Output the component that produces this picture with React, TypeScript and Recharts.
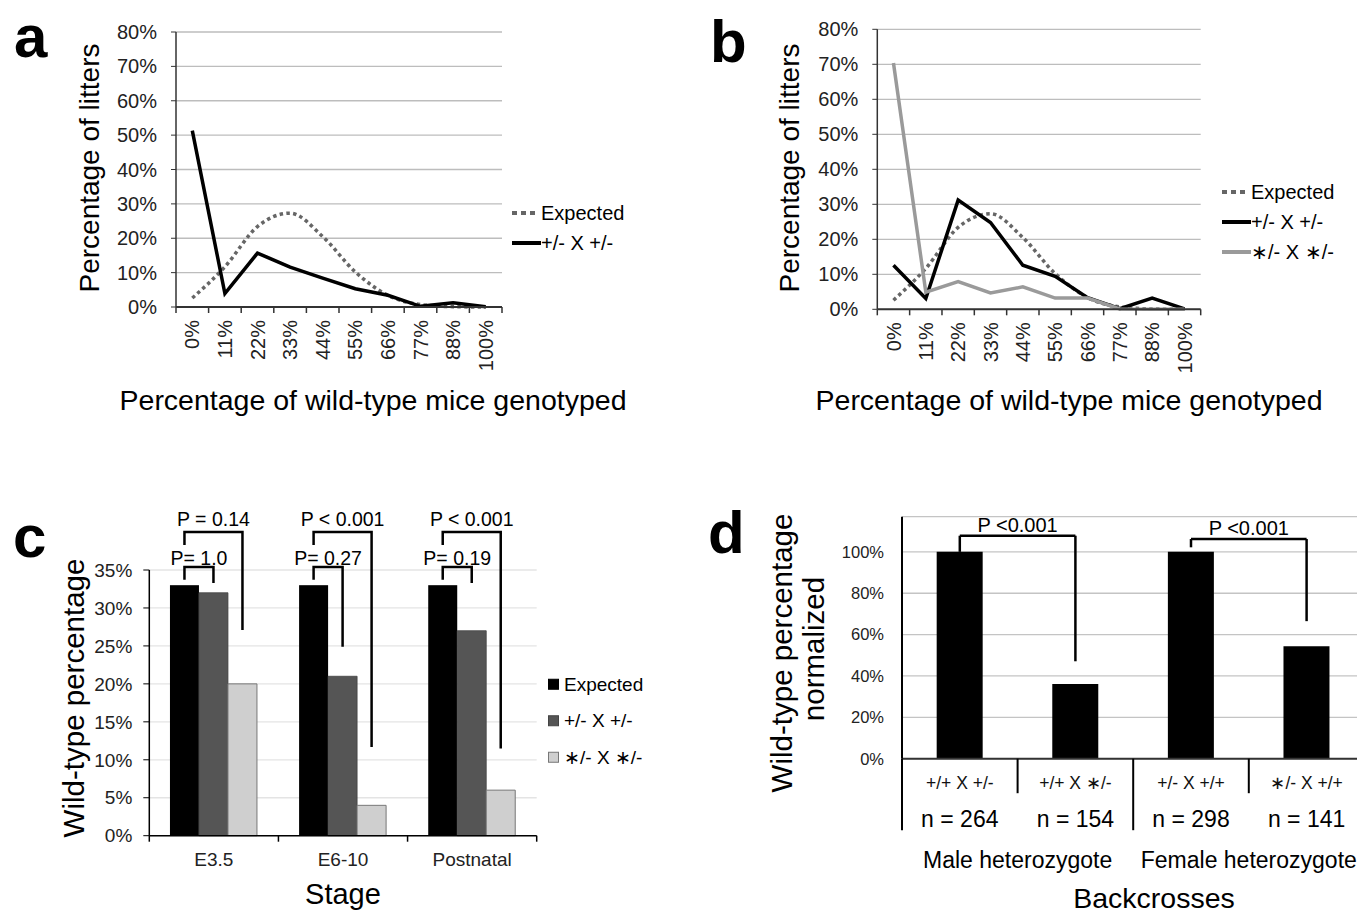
import React from 'react';
import {
  ComposedChart, BarChart, Bar, Line, XAxis, YAxis, CartesianGrid, Legend, ReferenceLine,
} from 'recharts';

const FONT = '"Liberation Sans", Arial, Helvetica, sans-serif';

// a / b: share of wild-type pups per litter
const wtBins = ['0%', '11%', '22%', '33%', '44%', '55%', '66%', '77%', '88%', '100%'];
const expectedLitters = [2.6, 11.7, 23.4, 27.3, 20.5, 10.2, 3.4, 0.7, 0.1, 0];
const hetLittersA = [51.3, 3.9, 15.7, 11.6, 8.4, 5.3, 3.4, 0.2, 1.2, 0.1];
const hetLittersB = [12.6, 3.1, 31.2, 24.8, 12.6, 9.4, 3.3, 0.2, 3.2, 0.1];
const mutLittersB = [70.4, 4.9, 7.9, 4.7, 6.4, 3.2, 3.2, 0.1, 0, 0];
const litterTicks = [0, 10, 20, 30, 40, 50, 60, 70, 80];

// c: wild-type percentage by stage
const stages = ['E3.5', 'E6-10', 'Postnatal'];
const stageExpected = [33, 33, 33];
const stageHet = [32, 21, 27];
const stageMut = [20, 4, 6];
const stageTicks = [0, 5, 10, 15, 20, 25, 30, 35];
const pHet = ['P= 1.0', 'P= 0.27', 'P= 0.19'];
const pMut = ['P = 0.14', 'P < 0.001', 'P < 0.001'];
const pHetEnd = [33.3, 24.9, 33.3];
const pMutEnd = [27.1, 11.7, 11.5];

// d: backcrosses
const crosses = ['+/+ X +/-', '+/+ X \u2217/-', '+/- X +/+', '\u2217/- X +/+'];
const crossN = ['n = 264', 'n = 154', 'n = 298', 'n = 141'];
const crossGroups = ['Male heterozygote', 'Female heterozygote'];
const crossWt = [100, 36.1, 100, 54.4];
const crossP = ['P <0.001', 'P <0.001'];
const crossPTop = [107.8, 106.2];
const crossPStart = [100, 102.2];
const crossPEnd = [47.1, 66.5];
const crossTicks = [0, 20, 40, 60, 80, 100];

const rowsA = wtBins.map((bin, i) => ({ bin, expected: expectedLitters[i], het: hetLittersA[i] }));
const rowsB = wtBins.map((bin, i) => ({
  bin, expected: expectedLitters[i], het: hetLittersB[i], mut: mutLittersB[i],
}));
const stageRows = stages.map((stage, i) => ({
  stage,
  expected: stageExpected[i],
  het: stageHet[i],
  mut: stageMut[i],
  pHet: pHet[i],
  pMut: pMut[i],
  hetEnd: pHetEnd[i],
  mutEnd: pMutEnd[i],
}));
const crossRows = crosses.map((cross, i) => ({ cross, wt: crossWt[i] }));

const pct = (v: number) => `${v}%`;

type LineKey = { name: string; color: string; dash?: string };
const lineSeriesA: LineKey[] = [
  { name: 'Expected', color: '#666', dash: '5 4' },
  { name: '+/- X +/-', color: '#000' },
];
const lineSeriesB: LineKey[] = [...lineSeriesA, { name: '\u2217/- X \u2217/-', color: '#9a9a9a' }];

const stageSeries = [
  { name: 'Expected', fill: '#000', stroke: '#000' },
  { name: '+/- X +/-', fill: '#555', stroke: '#444' },
  { name: '\u2217/- X \u2217/-', fill: '#cfcfcf', stroke: '#777' },
];

function LineLegend({ items }: { items: LineKey[] }) {
  const row = 30;
  return (
    <svg width={160} height={items.length * row} style={{ display: 'block', overflow: 'visible' }}>
      {items.map((it, i) => {
        const cy = row / 2 + i * row;
        return (
          <g key={it.name}>
            <line x1={0} x2={it.dash ? 23 : 29} y1={cy} y2={cy} stroke={it.color} strokeWidth={4}
              strokeDasharray={it.dash} />
            <text x={29} y={cy} dominantBaseline="central" fontSize={20} fontFamily={FONT} fill="#000">
              {it.name}
            </text>
          </g>
        );
      })}
    </svg>
  );
}

function BarLegend() {
  const row = 36.5;
  return (
    <svg width={120} height={stageSeries.length * row} style={{ display: 'block', overflow: 'visible' }}>
      {stageSeries.map((s, i) => {
        const cy = row / 2 + i * row;
        return (
          <g key={s.name}>
            <rect x={0.5} y={cy - 5} width={10} height={10} fill={s.fill} stroke={s.stroke} />
            <text x={16} y={cy} dominantBaseline="central" fontSize={19} fontFamily={FONT} fill="#000">
              {s.name}
            </text>
          </g>
        );
      })}
    </svg>
  );
}

// rotated bin labels, tick marks on the band edges
function BinTick(props: any) {
  const { x, y, payload, index, width } = props;
  const half = (typeof width === 'number' ? width : 328) / wtBins.length / 2;
  const ty = y + 13;
  return (
    <g>
      <line x1={x - half} x2={x - half} y1={y} y2={y + 6} stroke="#333" strokeWidth={1.5} />
      {index === wtBins.length - 1 && (
        <line x1={x + half} x2={x + half} y1={y} y2={y + 6} stroke="#333" strokeWidth={1.5} />
      )}
      <text x={x} y={ty} transform={`rotate(-90 ${x} ${ty})`} textAnchor="end" dy="0.36em"
        fontSize={20} fill="#222" fontFamily={FONT}>
        {payload.value}
      </text>
    </g>
  );
}

function StageTick(props: any) {
  const { x, y, payload, index, width } = props;
  const half = (typeof width === 'number' ? width : 387) / stages.length / 2;
  return (
    <g>
      <line x1={x - half} x2={x - half} y1={y} y2={y + 6} stroke="#000" strokeWidth={1.5} />
      {index === stages.length - 1 && (
        <line x1={x + half} x2={x + half} y1={y} y2={y + 6} stroke="#000" strokeWidth={1.5} />
      )}
      <text x={x} y={y + 24} textAnchor="middle" dominantBaseline="central" fontSize={19}
        fill="#222" fontFamily={FONT}>
        {payload.value}
      </text>
    </g>
  );
}

function CrossTick(props: any) {
  const { x, y, payload, index, width } = props;
  const half = (typeof width === 'number' ? width : 462) / crosses.length / 2;
  const left = x - half;
  const long = index === 0 || index === 2;
  return (
    <g>
      <line x1={left} x2={left} y1={y} y2={y + (long ? 71.5 : 34.5)} stroke="#000" strokeWidth={2} />
      <text x={x} y={y + 24.3} textAnchor="middle" dominantBaseline="central" fontSize={17.5}
        fill="#111" fontFamily={FONT}>
        {payload.value}
      </text>
      <text x={x} y={y + 60.3} textAnchor="middle" dominantBaseline="central" fontSize={23}
        fill="#000" fontFamily={FONT}>
        {crossN[index]}
      </text>
      {index % 2 === 1 && (
        <text x={left} y={y + 101.3} textAnchor="middle" dominantBaseline="central" fontSize={23}
          fill="#000" fontFamily={FONT}>
          {crossGroups[(index - 1) / 2]}
        </text>
      )}
    </g>
  );
}

// brackets in c are hung off the Expected bar of each stage
const BR_OUTER_TOP = 40;
const BR_OUTER_LEG = 38.3;
const BR_INNER_TOP = 35.4;
const BR_INNER_LEG = 33.7;

function ExpectedBar(props: any) {
  const { x, y, width, height, payload, fill } = props;
  const rect = <rect x={x} y={y} width={width} height={height} fill={fill} />;
  if (!payload || !payload.expected) return rect;
  const base = y + height;
  const k = height / payload.expected;
  const py = (v: number) => base - v * k;
  const c0 = x + width / 2;
  const c1 = c0 + width;
  const c2 = c0 + 2 * width;
  const outer = py(BR_OUTER_TOP);
  const inner = py(BR_INNER_TOP);
  const txt = { textAnchor: 'middle' as const, dominantBaseline: 'central' as const, fontSize: 19.5, fontFamily: FONT, fill: '#000' };
  return (
    <g>
      {rect}
      <path d={`M${c0},${py(BR_OUTER_LEG)}V${outer}H${c2}V${py(payload.mutEnd)}`} fill="none"
        stroke="#000" strokeWidth={2.5} />
      <path d={`M${c0},${py(BR_INNER_LEG)}V${inner}H${c1}V${py(payload.hetEnd)}`} fill="none"
        stroke="#000" strokeWidth={2.5} />
      <text x={(c0 + c2) / 2} y={outer - 13} {...txt}>{payload.pMut}</text>
      <text x={(c0 + c1) / 2} y={inner - 9} {...txt}>{payload.pHet}</text>
    </g>
  );
}

function LitterChart({ data, series, legendLeft, legendTop, margin }: any) {
  return (
    <ComposedChart width={660} height={420} data={data} margin={margin}>
      <CartesianGrid vertical={false} stroke="#bdbdbd" strokeWidth={1.3} />
      <XAxis dataKey="bin" scale="band" interval={0} height={70} tickLine={false} tickSize={0}
        tickMargin={0} tick={(p: any) => <BinTick {...p} />} axisLine={{ stroke: '#333', strokeWidth: 2 }} />
      <YAxis domain={[0, 80]} ticks={litterTicks} tickFormatter={pct} width={60} tickSize={5}
        tickMargin={14} axisLine={{ stroke: '#333', strokeWidth: 1.5 }} tickLine={{ stroke: '#333' }}
        tick={{ fontSize: 20, fill: '#222', fontFamily: FONT }} />
      <Line dataKey="expected" type="monotone" stroke="#666" strokeWidth={3.5}
        strokeDasharray="3.5 3.3" dot={false} activeDot={false} isAnimationActive={false} />
      <Line dataKey="het" type="linear" stroke="#000" strokeWidth={3.5} dot={false}
        activeDot={false} isAnimationActive={false} />
      {series.length > 2 && (
        <Line dataKey="mut" type="linear" stroke="#9a9a9a" strokeWidth={3.5} dot={false}
          activeDot={false} isAnimationActive={false} />
      )}
      <Legend layout="vertical" align="center" verticalAlign="middle"
        wrapperStyle={{ left: legendLeft, top: legendTop, width: 160 }}
        content={() => <LineLegend items={series} />} />
    </ComposedChart>
  );
}

function StageChart() {
  return (
    <BarChart width={660} height={425} data={stageRows} barGap={0} barCategoryGap="16%"
      margin={{ top: 80, right: 123.3, bottom: 29.3, left: 89.3 }}>
      <CartesianGrid vertical={false} stroke="#e4e4e4" strokeWidth={1.3} />
      <XAxis dataKey="stage" interval={0} height={50} tickLine={false} tickSize={0} tickMargin={0}
        tick={(p: any) => <StageTick {...p} />} axisLine={{ stroke: '#000', strokeWidth: 1.5 }} />
      <YAxis domain={[0, 35]} ticks={stageTicks} tickFormatter={pct} width={60} tickSize={6}
        tickMargin={11} axisLine={{ stroke: '#000', strokeWidth: 1.5 }} tickLine={{ stroke: '#000' }}
        tick={{ fontSize: 19, fill: '#222', fontFamily: FONT }} />
      <Bar dataKey="expected" fill={stageSeries[0].fill} shape={(p: any) => <ExpectedBar {...p} />}
        isAnimationActive={false} />
      <Bar dataKey="het" fill={stageSeries[1].fill} stroke={stageSeries[1].stroke} strokeWidth={0.8}
        isAnimationActive={false} />
      <Bar dataKey="mut" fill={stageSeries[2].fill} stroke={stageSeries[2].stroke} strokeWidth={1}
        isAnimationActive={false} />
      <Legend layout="vertical" align="center" verticalAlign="middle"
        wrapperStyle={{ left: 548, top: 175.75, width: 120 }} content={() => <BarLegend />} />
    </BarChart>
  );
}

function CrossChart() {
  return (
    <BarChart width={690} height={425} data={crossRows} barCategoryGap="30%"
      margin={{ top: 26.7, right: 15.6, bottom: 36.3, left: 132 }}>
      <CartesianGrid vertical={false} stroke="#c4c4c4" strokeWidth={1.3} />
      <XAxis dataKey="cross" interval={0} height={120} tickLine={false} tickSize={0} tickMargin={0}
        tick={(p: any) => <CrossTick {...p} />} axisLine={{ stroke: '#333', strokeWidth: 2 }} />
      <YAxis domain={[0, 117]} ticks={crossTicks} tickFormatter={pct} width={80} tickLine={false}
        tickSize={0} tickMargin={18} axisLine={{ stroke: '#000', strokeWidth: 2 }}
        tick={{ fontSize: 16.5, fill: '#222', fontFamily: FONT }} />
      <Bar dataKey="wt" fill="#000" isAnimationActive={false} />
      {crossP.map((p, i) => {
        const l = crosses[2 * i];
        const r = crosses[2 * i + 1];
        return [
          <ReferenceLine key={`l${i}`} segment={[{ x: l, y: crossPStart[i] }, { x: l, y: crossPTop[i] }]}
            stroke="#000" strokeWidth={2.5} ifOverflow="visible" />,
          <ReferenceLine key={`t${i}`} segment={[{ x: l, y: crossPTop[i] }, { x: r, y: crossPTop[i] }]}
            stroke="#000" strokeWidth={2.5} ifOverflow="visible"
            label={{ value: p, position: 'top', offset: 4, fontSize: 20, fill: '#000', fontFamily: FONT }} />,
          <ReferenceLine key={`r${i}`} segment={[{ x: r, y: crossPTop[i] }, { x: r, y: crossPEnd[i] }]}
            stroke="#000" strokeWidth={2.5} ifOverflow="visible" />,
        ];
      })}
    </BarChart>
  );
}

function Captions() {
  const title = { textAnchor: 'middle' as const, dominantBaseline: 'central' as const, fontFamily: FONT, fill: '#000' };
  const letter = { fontSize: 60, fontWeight: 700, fontFamily: FONT, fill: '#000' };
  return (
    <svg width={1357} height={915} style={{ position: 'absolute', left: 0, top: 0, pointerEvents: 'none' }}>
      <text x={14} y={57} {...letter}>a</text>
      <text x={710} y={62} {...letter}>b</text>
      <text x={13} y={557} {...letter}>c</text>
      <text x={708} y={553} {...letter}>d</text>

      <text x={89} y={168} fontSize={28} transform="rotate(-90 89 168)" {...title}>Percentage of litters</text>
      <text x={373} y={400} fontSize={28.5} {...title}>Percentage of wild-type mice genotyped</text>
      <text x={789} y={168} fontSize={28} transform="rotate(-90 789 168)" {...title}>Percentage of litters</text>
      <text x={1069} y={400} fontSize={28.5} {...title}>Percentage of wild-type mice genotyped</text>

      <text x={73} y={698} fontSize={29.5} transform="rotate(-90 73 698)" {...title}>Wild-type percentage</text>
      <text x={343} y={894} fontSize={29} {...title}>Stage</text>

      <text x={781.5} y={653} fontSize={29.5} transform="rotate(-90 781.5 653)" {...title}>Wild-type percentage</text>
      <text x={813} y={649} fontSize={29.5} transform="rotate(-90 813 649)" {...title}>normalized</text>
      <text x={1154} y={898} fontSize={28.5} {...title}>Backcrosses</text>
    </svg>
  );
}

export default function App() {
  return (
    <div style={{
      position: 'absolute', left: 0, top: 0, width: 1357, height: 915, overflow: 'hidden',
      background: '#fff', fontFamily: FONT,
    }}>
      <div style={{ position: 'absolute', left: 0, top: 0 }}>
        <LitterChart data={rowsA} series={lineSeriesA} legendLeft={511.7} legendTop={198}
          margin={{ top: 32, right: 158, bottom: 43, left: 116 }} />
      </div>
      <div style={{ position: 'absolute', left: 690, top: 0 }}>
        <LitterChart data={rowsB} series={lineSeriesB} legendLeft={531.7} legendTop={177}
          margin={{ top: 29.3, right: 149.3, bottom: 40.7, left: 127.3 }} />
      </div>
      <div style={{ position: 'absolute', left: 0, top: 490 }}>
        <StageChart />
      </div>
      <div style={{ position: 'absolute', left: 690, top: 490 }}>
        <CrossChart />
      </div>
      <Captions />
    </div>
  );
}
